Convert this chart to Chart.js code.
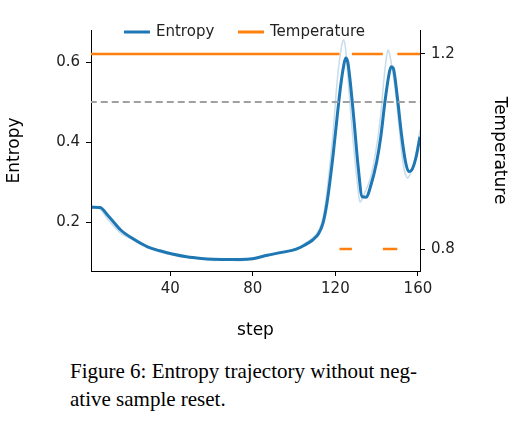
<!DOCTYPE html>
<html><head><meta charset="utf-8">
<script src="https://cdn.jsdelivr.net/npm/chart.js@4"></script>
<style>
body{margin:0;background:#fff;width:514px;height:442px;overflow:hidden}
#w{position:relative;width:514px;height:345px}
#cap{font-family:"Liberation Serif","Times New Roman",serif;font-size:21px;line-height:28px;color:#000;margin:12px 0 0 70px;width:440px}
</style></head><body>
<div id="w"><canvas id="c" width="514" height="345" style="width:514px;height:345px"></canvas></div>
<div id="cap">Figure 6: Entropy trajectory without neg-<br>ative sample reset.</div>
<script>
const steps = [2,6,10,16,22,29,35,41,48,55,61,68,74,80,87,94,101,105,109,112,114,116,119,121,122.5,124,125,126,127,129,131,133,135,137,140,142,144,146,147,148,150,152,154,155.5,157,159,161];
const entropy = [0.237,0.236,0.215,0.18,0.158,0.138,0.128,0.12,0.113,0.109,0.107,0.106,0.106,0.108,0.117,0.124,0.132,0.142,0.155,0.172,0.197,0.25,0.372,0.47,0.538,0.59,0.61,0.6,0.56,0.455,0.34,0.263,0.262,0.288,0.35,0.413,0.5,0.57,0.588,0.585,0.513,0.42,0.35,0.326,0.33,0.36,0.413];
const rawSteps = [2,6,10,16,22,29,35,41,48,55,61,68,74,80,87,94,101,105,109,112,114,116,119,121,123,124,125,127,129,131,132,134,137,140,142,144,145.5,147,149,151,153,155,157,159,161];
const entropyRaw = [0.24,0.232,0.205,0.172,0.155,0.136,0.125,0.118,0.111,0.108,0.104,0.106,0.103,0.11,0.115,0.126,0.13,0.146,0.16,0.18,0.21,0.28,0.43,0.56,0.64,0.655,0.63,0.5,0.38,0.28,0.25,0.27,0.31,0.39,0.47,0.58,0.63,0.6,0.53,0.43,0.34,0.31,0.33,0.37,0.43];
const tempSteps = [1,122,122,128,128,143,143,150,150,161];
const temperature = [1.2,1.2,0.8,0.8,1.2,1.2,0.8,0.8,1.2,1.2];
const xTicks = [40,80,120,160];
const leftTicks = [0.2,0.4,0.6];
const rightTicks = [0.8,1.2];
const refLine = 0.5;

const hi=[],lo=[];
for(let i=0;i<tempSteps.length-1;i++){
  if(temperature[i]===temperature[i+1]){
    const arr = temperature[i]>1?hi:lo;
    arr.push({x:tempSteps[i],y:temperature[i]},{x:tempSteps[i+1],y:temperature[i+1]});
  }
  (temperature[i]>1?lo:hi).push({x:tempSteps[i],y:null});
}
const F='"DejaVu Sans"';
const legendPlugin={id:'lg',afterDraw(ch){
  const c=ch.ctx;c.save();c.font='15px '+F;c.fillStyle='#222';c.textBaseline='middle';
  const y=32;
  c.lineWidth=3;c.strokeStyle='#1f77b4';c.beginPath();c.moveTo(124,y);c.lineTo(150,y);c.stroke();
  c.fillText('Entropy',156,y);
  c.strokeStyle='#ff7f0e';c.beginPath();c.moveTo(238,y);c.lineTo(264,y);c.stroke();
  c.fillText('Temperature',270,y);
  c.restore();
}};
const tk={font:{family:F,size:15},color:'#222'};
const grid={display:true,drawOnChartArea:false,drawTicks:true,tickLength:5,color:'#000',tickWidth:1};
new Chart(document.getElementById('c'),{
  type:'line',
  data:{datasets:[
    {data:hi,yAxisID:'y2',borderColor:'#ff7f0e',borderWidth:2.5,pointRadius:0,spanGaps:false},
    {data:lo,yAxisID:'y2',borderColor:'#ff7f0e',borderWidth:2.5,pointRadius:0,spanGaps:false},
    {data:[{x:1,y:refLine},{x:161,y:refLine}],yAxisID:'y',borderColor:'#a0a0a0',borderWidth:1.8,borderDash:[7,4],pointRadius:0},
    {data:rawSteps.map((s,i)=>({x:s,y:entropyRaw[i]})),yAxisID:'y',borderColor:'rgba(31,119,180,0.25)',borderWidth:1.5,pointRadius:0,tension:0.3},
    {data:steps.map((s,i)=>({x:s,y:entropy[i]})),yAxisID:'y',borderColor:'#1f77b4',borderWidth:3,pointRadius:0,tension:0.4,cubicInterpolationMode:'monotone'}
  ]},
  options:{responsive:false,animation:false,devicePixelRatio:1,
    layout:{padding:{top:30,left:0,right:0,bottom:0}},
    plugins:{legend:{display:false},tooltip:{enabled:false}},
    scales:{
      x:{type:'linear',min:1.6,max:161,grid,border:{display:true,color:'#000',width:1},
        afterBuildTicks(s){s.ticks=xTicks.map(v=>({value:v}));},ticks:{...tk,maxRotation:0,padding:4},
        title:{display:true,text:'step',font:{family:F,size:17},color:'#000',padding:{top:2}},
        afterFit(s){s.height=74;}},
      y:{position:'left',min:0.0775,max:0.68,grid,border:{display:true,color:'#000',width:1},
        afterBuildTicks(s){s.ticks=leftTicks.map(v=>({value:v}));},ticks:{...tk,padding:6,callback:v=>v.toFixed(1)},
        title:{display:true,text:'Entropy',font:{family:F,size:17},color:'#000',padding:{bottom:2}},
        afterFit(s){s.width=91;}},
      y2:{position:'right',min:0.755,max:1.249,grid,border:{display:true,color:'#000',width:1},
        afterBuildTicks(s){s.ticks=rightTicks.map(v=>({value:v}));},ticks:{...tk,padding:6,callback:v=>v.toFixed(1)},
        title:{display:true,text:'Temperature',font:{family:F,size:17},color:'#000'},
        afterFit(s){s.width=94;}}
    }},
  plugins:[legendPlugin]
});
</script>
</body></html>
